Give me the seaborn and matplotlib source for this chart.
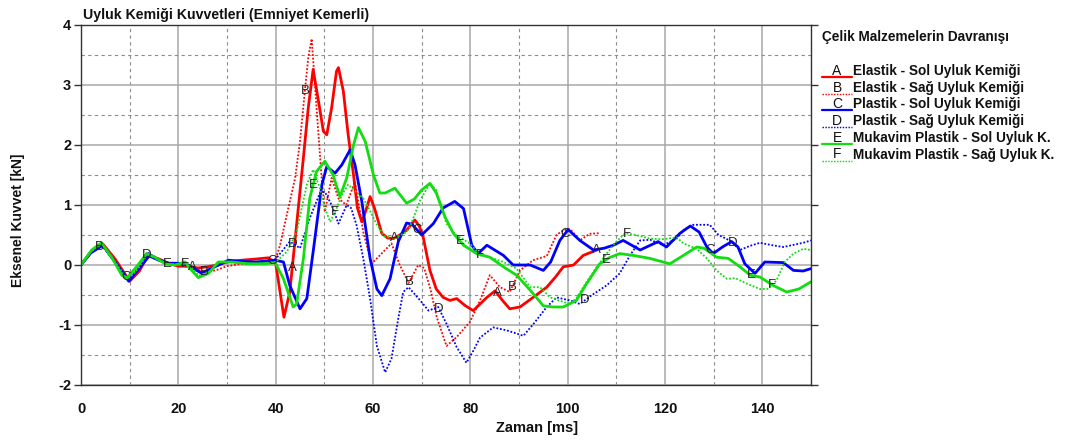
import numpy as np
import pandas as pd
import matplotlib
matplotlib.use("Agg")
import matplotlib.pyplot as plt
from matplotlib.lines import Line2D
from matplotlib.ticker import MultipleLocator
import seaborn as sns

# ---------------- data ----------------
title = "Uyluk Kemiği Kuvvetleri (Emniyet Kemerli)"
xlabel = "Zaman [ms]"
ylabel = "Eksenel Kuvvet [kN]"
legend_title = "Çelik Malzemelerin Davranışı"
letters = ["A", "B", "C", "D", "E", "F"]
names = ["Elastik - Sol Uyluk Kemiği", "Elastik - Sağ Uyluk Kemiği",
         "Plastik - Sol Uyluk Kemiği", "Plastik - Sağ Uyluk Kemiği",
         "Mukavim Plastik - Sol Uyluk K.", "Mukavim Plastik - Sağ Uyluk K."]

tA = [0, 2, 4.5, 7, 10, 12, 13.8, 16, 18, 20, 22, 24, 26, 28, 30, 33, 36, 38.5, 40, 41, 41.7, 42.9, 44.3,
      45.7, 46.7, 47.7, 48.8, 49.8, 50.5, 51.5, 52.5, 52.9, 53.9, 54.9, 56, 56.8, 57.7, 58.5, 59.4, 60.3,
      61.8, 63, 64.2, 65.5, 66.9, 68.6, 69.5, 70.3, 71.7, 73, 74.4, 75.8, 77.2, 79, 80.6, 82, 83.4, 85.1,
      86.5, 88.1, 90.2, 92.9, 95.7, 97.5, 99.1, 101.2, 103.2, 106]
yA = [0, 0.22, 0.35, 0.1, -0.27, -0.1, 0.17, 0.1, 0.03, -0.02, -0.02, -0.05, -0.03, 0.0, 0.05, 0.08, 0.1,
      0.12, 0.03, -0.5, -0.87, -0.45, 0.67, 1.79, 2.62, 3.26, 2.73, 2.23, 2.17, 2.62, 3.23, 3.29, 2.9, 2.17,
      1.5, 0.95, 0.72, 0.9, 1.14, 0.95, 0.53, 0.45, 0.44, 0.5, 0.58, 0.75, 0.65, 0.47, -0.09, -0.4, -0.54,
      -0.59, -0.56, -0.68, -0.76, -0.65, -0.54, -0.43, -0.58, -0.73, -0.7, -0.54, -0.37, -0.2, -0.03, 0.0,
      0.16, 0.25]

tB = [0, 2, 4.2, 7, 10, 12, 13.5, 16, 18, 20, 22, 24, 26, 28, 30, 33, 36, 39, 40, 40.9, 42.6, 44, 45, 46,
      46.7, 47.4, 48.4, 49.5, 50.1, 51.5, 52.9, 54.5, 56.3, 58, 59.7, 61.4, 63.8, 65.5, 67.3, 69.3, 70.5,
      71.8, 73.1, 75.1, 77.2, 79.9, 82, 84, 86.1, 88.1, 90.2, 92.9, 95.7, 97.7, 99.1, 100.5, 102.5, 104.5,
      106.5]
yB = [0, 0.2, 0.34, 0.05, -0.25, -0.05, 0.2, 0.08, 0.02, 0.0, -0.03, -0.1, -0.12, -0.08, -0.02, 0.02,
      0.02, 0.05, 0.1, 0.33, 0.95, 1.45, 2.06, 2.9, 3.46, 3.77, 2.62, 1.39, 0.89, 1.45, 1.11, 1.0, 1.39,
      0.55, 0.02, 0.16, 0.36, 0.0, -0.3, 0.0, -0.05, -0.4, -0.87, -1.35, -1.2, -0.95, -0.59, -0.17, -0.37,
      -0.45, -0.09, 0.08, 0.15, 0.5, 0.58, 0.6, 0.41, 0.52, 0.53]

tC = [0, 2, 4.5, 7, 9.8, 12, 14, 16, 18, 20, 22, 24.8, 27, 30.3, 33, 36, 39.9, 41.6, 42.9, 45, 46.4,
      47.7, 49.5, 50.5, 52.2, 53.6, 55.3, 56.3, 57.7, 59.4, 60.8, 61.8, 63.5, 65.2, 66.9, 68, 70, 72.4,
      74.4, 76.8, 78.6, 80.3, 81.6, 83.4, 86.8, 88.8, 92.3, 95, 96.5, 98.4, 100.1, 102.5, 105.3, 107.5,
      109.4, 111.4, 114.9, 118.6, 120.3, 123.1, 125.2, 127, 128.6, 129.9, 131.8, 133.7, 135, 136.4, 138.5,
      140.5, 144.3, 146.4, 148.4, 150]
yC = [0, 0.2, 0.33, 0.05, -0.27, -0.05, 0.15, 0.08, 0.03, 0.03, 0.0, -0.14, -0.05, 0.08, 0.06, 0.05,
      0.08, 0.05, -0.34, -0.73, -0.56, 0.22, 1.34, 1.64, 1.53, 1.67, 1.92, 1.67, 1.06, 0.11, -0.4, -0.51,
      -0.23, 0.39, 0.7, 0.68, 0.5, 0.69, 0.95, 1.06, 0.94, 0.33, 0.19, 0.33, 0.16, 0.0, 0.0, -0.09, 0.05,
      0.41, 0.59, 0.41, 0.25, 0.28, 0.33, 0.41, 0.25, 0.39, 0.3, 0.53, 0.65, 0.55, 0.3, 0.19, 0.3, 0.39,
      0.3, 0.02, -0.14, 0.05, 0.04, -0.09, -0.1, -0.06]

tD = [0, 2, 4.2, 7, 9.8, 12, 13.8, 16, 18, 20, 22, 25, 27, 30, 34, 37, 40, 42.9, 45, 47, 49.1, 50.1,
      51.5, 52.9, 54.6, 55.5, 56.6, 58, 59.4, 60.8, 62.5, 63.8, 65.2, 66.2, 67.3, 69.7, 71.4, 73.4, 75.1,
      77.2, 79.2, 80.6, 82, 84.7, 87.5, 90.9, 93, 95.7, 97.7, 100.5, 102.5, 105, 108, 110.7, 112.8, 114.9,
      117, 119.6, 122.4, 124, 125.8, 129.2, 131, 133.5, 135.4, 137.5, 139.5, 142, 144.3, 148.4, 150]
yD = [0, 0.2, 0.33, 0.05, -0.24, -0.03, 0.2, 0.1, 0.03, 0.02, 0.0, -0.12, -0.05, 0.06, 0.05, 0.05, 0.1,
      0.39, 0.28, 0.78, 1.2, 1.22, 1.0, 0.69, 1.0, 0.95, 0.67, 0.11, -0.56, -1.35, -1.79, -1.56, -0.89,
      -0.45, -0.37, -0.59, -0.76, -0.7, -0.98, -1.37, -1.63, -1.43, -1.21, -1.04, -1.09, -1.18, -0.98,
      -0.7, -0.54, -0.59, -0.65, -0.5, -0.34, -0.14, 0.16, 0.41, 0.42, 0.33, 0.44, 0.6, 0.67, 0.67, 0.5,
      0.4, 0.25, 0.32, 0.37, 0.33, 0.3, 0.37, 0.41]

tE = [0, 2.2, 4.2, 6.3, 8.4, 9.4, 11.4, 13.5, 15.2, 17.3, 19.3, 21.4, 22.4, 24.1, 26.2, 28.2, 31, 34.4,
      37.8, 39.9, 41.6, 43.6, 44.3, 45.7, 47, 48.4, 50.1, 51.8, 53.2, 54.6, 56, 57, 58.4, 60.1, 61.4, 62.5,
      64.5, 66.9, 68.5, 70, 71.7, 73, 74.8, 76.5, 78.6, 81.3, 84, 86.8, 89.5, 92.3, 95, 97, 99.1, 101.8,
      103.9, 106.6, 108.5, 110.7, 113.5, 116.9, 119.6, 121, 123.8, 126.5, 128, 130.6, 133, 135.4, 137.5,
      139.5, 142.2, 145, 147.5, 150]
yE = [0, 0.25, 0.37, 0.13, -0.17, -0.22, -0.03, 0.19, 0.13, 0.02, 0.0, 0.05, -0.06, -0.21, -0.14, 0.05,
      0.05, 0.02, 0.02, 0.04, -0.23, -0.7, -0.65, 0.11, 1.11, 1.56, 1.73, 1.5, 1.14, 1.45, 2.0, 2.29, 2.06,
      1.5, 1.2, 1.2, 1.28, 1.03, 1.1, 1.25, 1.36, 1.2, 0.8, 0.53, 0.33, 0.19, 0.13, -0.03, -0.17, -0.42,
      -0.68, -0.7, -0.7, -0.59, -0.31, 0.02, 0.12, 0.19, 0.16, 0.11, 0.05, 0.02, 0.16, 0.3, 0.28, 0.13,
      0.11, -0.03, -0.17, -0.2, -0.34, -0.45, -0.4, -0.28]

tF = [0, 2, 4.2, 7, 9.6, 12, 13.6, 16, 18, 20, 22, 24.2, 26.5, 28.5, 32, 36, 40, 42.3, 44.3, 46.4, 47.7,
      49.1, 50.1, 51.2, 52.3, 53.6, 54.9, 56.5, 58, 59.4, 60.8, 62.5, 64.5, 66.9, 67.6, 69.7, 71.7, 73,
      75.1, 77, 79.9, 82, 84, 86.8, 89.5, 92.3, 94.3, 96.4, 98.5, 100.5, 101.8, 103.9, 106, 108, 110,
      111.8, 114, 116.9, 119.6, 122.4, 123.8, 126.5, 128.6, 130.6, 132.7, 134.5, 136.8, 139.5, 141,
      142.9, 144.6, 146.4, 148.4, 150]
yF = [0, 0.22, 0.35, 0.05, -0.25, -0.03, 0.18, 0.08, 0.02, 0.0, 0.02, -0.18, -0.1, 0.05, 0.04, 0.02,
      0.05, 0.22, 0.55, 1.34, 1.59, 1.28, 0.95, 0.72, 0.9, 1.17, 1.34, 1.22, 1.11, 0.9, 0.67, 0.47, 0.45,
      0.55, 0.64, 1.08, 1.36, 1.25, 0.69, 0.5, 0.36, 0.16, 0.13, 0.05, -0.06, -0.37, -0.37, -0.54, -0.6,
      -0.65, -0.55, -0.28, -0.03, 0.19, 0.39, 0.53, 0.5, 0.44, 0.43, 0.46, 0.36, 0.27, 0.11, -0.09, -0.23,
      -0.22, -0.31, -0.4, -0.4, -0.26, 0.05, 0.19, 0.27, 0.25]

# positions (ms) of the letter tags drawn along every curve
tagA = [22.9, 43.4, 64.5, 85.5, 106.0]
tagB = [3.7, 25.3, 46.0, 67.4, 88.6]
tagC = [9.2, 39.2, 69.0, 99.4, 129.2]
tagD = [13.6, 43.6, 73.6, 103.6, 134.0]
tagE = [17.7, 47.7, 77.9, 107.9, 137.7]
tagF = [21.4, 52.2, 82.0, 112.2, 142.0]

xticks = [0, 20, 40, 60, 80, 100, 120, 140]
yticks = [-2, -1, 0, 1, 2, 3, 4]

# ---------------- styling ----------------
RED, BLUE, GREEN = "#ff0000", "#0000ff", "#11dd11"
series = [
    (tA, yA, tagA, RED, "-", 2.0),
    (tB, yB, tagB, RED, (0, (1, 1)), 1.3),
    (tC, yC, tagC, BLUE, "-", 2.0),
    (tD, yD, tagD, BLUE, (0, (1, 1)), 1.3),
    (tE, yE, tagE, GREEN, "-", 2.0),
    (tF, yF, tagF, GREEN, (0, (1, 1)), 1.3),
]

sns.set_theme(style="white")
plt.rcParams["font.family"] = ["Liberation Sans", "DejaVu Sans"]
plt.rcParams["axes.unicode_minus"] = False

fig = plt.figure(figsize=(10.67, 4.41), dpi=100)
ax = fig.add_axes([81 / 1067, 1 - 385 / 441, (811 - 81) / 1067, (385 - 25) / 441])

for (t, y, tags, col, ls, lw), letter in zip(series, letters):
    df = pd.DataFrame({"t": t, "v": y})
    sns.lineplot(data=df, x="t", y="v", ax=ax, color=col, linewidth=lw, linestyle=ls,
                 estimator=None, sort=False, legend=False,
                 solid_joinstyle="round", dash_joinstyle="round")
    for tx in tags:
        ty = float(np.interp(tx, t, y))
        ax.text(tx, ty, letter, ha="center", va="center", fontsize=9.5,
                color="#222222", zorder=5)

ax.set_xlim(0, 150)
ax.set_ylim(-2, 4)
ax.set_xticks(xticks)
ax.set_yticks(yticks)
ax.xaxis.set_minor_locator(MultipleLocator(10))
ax.yaxis.set_minor_locator(MultipleLocator(0.5))
ax.grid(which="major", color="#a8a8a8", linestyle="-", linewidth=1.1)
ax.grid(which="minor", color="#8c8c8c", linestyle=(0, (3, 3)), linewidth=0.8)
ax.set_axisbelow(True)
for s in ax.spines.values():
    s.set_color("#333333")
    s.set_linewidth(1.0)
    s.set_visible(True)

ax.tick_params(axis="y", which="major", left=True, right=True, direction="out",
               length=5, width=1, color="#333333", pad=2)
ax.tick_params(axis="x", which="major", bottom=False, pad=6)
ax.tick_params(which="minor", length=0)
for lab in ax.get_xticklabels() + ax.get_yticklabels():
    lab.set_fontweight("bold")
    lab.set_fontsize(10.5)
    lab.set_color("#111111")
ax.set_xlabel("")
ax.set_ylabel("")

fig.text(83 / 1067, 1 - 15 / 441, title, fontsize=10.2, fontweight="bold",
         ha="left", va="center", color="#111111")
fig.text(537 / 1067, 1 - 428 / 441, xlabel, fontsize=10.5, fontweight="bold",
         ha="center", va="center", color="#111111")
fig.text(18 / 1067, 0.5, ylabel, fontsize=10, fontweight="bold", rotation=90,
         ha="center", va="center", color="#111111")

# legend drawn at the right side
fig.text(822 / 1067, 1 - 37 / 441, legend_title, fontsize=9.8, fontweight="bold",
         ha="left", va="center", color="#111111")
for i, ((t, y, tags, col, ls, lw), letter, name) in enumerate(zip(series, letters, names)):
    yc = 71 + i * 16.7
    fig.add_artist(Line2D([822 / 1067, 852 / 1067], [1 - (yc + 6) / 441] * 2,
                          color=col, linestyle=ls, linewidth=lw * 0.8, transform=fig.transFigure))
    fig.text(837 / 1067, 1 - yc / 441, letter, fontsize=10, ha="center", va="center",
             color="#111111")
    fig.text(853 / 1067, 1 - yc / 441, name, fontsize=9.8, fontweight="bold", ha="left",
             va="center", color="#111111")

fig.savefig("out.png", dpi=100)
